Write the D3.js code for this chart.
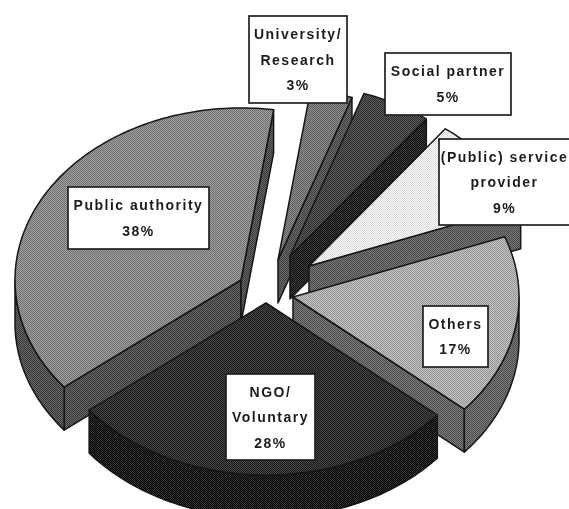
<!DOCTYPE html>
<html><head><meta charset="utf-8">
<script src="https://cdn.jsdelivr.net/npm/d3@7"></script>
<style>html,body{margin:0;padding:0;background:#fff}svg{display:block}</style>
</head><body><div id="c"></div>
<script>
const categories=["Public authority","University/Research","Social partner","(Public) service provider","Others","NGO/Voluntary"];
const values=[38,3,5,9,17,28];
const labelLines=[["Public authority","38%"],["University/","Research","3%"],["Social partner","5%"],["(Public) service","provider","9%"],["Others","17%"],["NGO/","Voluntary","28%"]];
const topGrey=[136,118,68,238,172,50];
const sideGrey=[80,84,34,96,100,26];
const drawOrder=[1,2,3,0,4,5];
const apexX=[241,278,290,309,293,266];
const apexY=[280,260,256,266,297,303];
const boxX0=[68,249,385,439,423,226], boxX1=[209,347,511,570,488,315];
const boxY0=[187,16,53,139,306,374], boxY1=[249,103,115,225,367,460];
const W=569,H=509,depth=43;
const px=d3.scaleLinear().domain([-1,1]).range([-226,226]);
const py=d3.scaleLinear().domain([-1,1]).range([172,-172]);
const svg=d3.select("#c").append("svg").attr("width",W).attr("height",H);
const defs=svg.append("defs");
defs.append("filter").attr("id","soft").append("feGaussianBlur").attr("stdDeviation",0.35);
function pattern(id,g){
  const p=defs.append("pattern").attr("id",id).attr("width",2).attr("height",2).attr("patternUnits","userSpaceOnUse");
  const hi=Math.min(255,g+26),lo=Math.max(0,g-26);
  p.append("rect").attr("width",2).attr("height",2).attr("fill",d3.rgb(hi,hi,hi));
  p.append("rect").attr("width",1).attr("height",1).attr("fill",d3.rgb(lo,lo,lo));
  p.append("rect").attr("x",1).attr("y",1).attr("width",1).attr("height",1).attr("fill",d3.rgb(lo,lo,lo));
}
categories.forEach((c,i)=>{pattern("t"+i,topGrey[i]);pattern("s"+i,sideGrey[i]);});
const pie=d3.pie().sort(null).startAngle(231.5*Math.PI/180).endAngle(591.5*Math.PI/180);
const arcs=pie(values);
const X=(i,a)=>apexX[i]+px(Math.sin(a));
const Y=(i,a)=>apexY[i]+py(Math.cos(a));
function arcPts(i,a0,a1,dy,ctx,move){
  const n=Math.max(2,Math.ceil(Math.abs(a1-a0)/0.02));
  d3.range(n+1).forEach(k=>{
    const a=a0+(a1-a0)*k/n;
    if(k===0&&move)ctx.moveTo(X(i,a),Y(i,a)+dy);else ctx.lineTo(X(i,a),Y(i,a)+dy);
  });
}
const g=svg.append("g").attr("filter","url(#soft)");
const stroke="#161616";
drawOrder.forEach(i=>{
  const a0=arcs[i].startAngle,a1=arcs[i].endAngle;
  const faces=[];
  [[a0,a0-Math.PI/2],[a1,a1+Math.PI/2]].forEach(([a,n])=>{
    if(Math.cos(n)<0){
      const c=d3.path();
      c.moveTo(apexX[i],apexY[i]);c.lineTo(X(i,a),Y(i,a));c.lineTo(X(i,a),Y(i,a)+depth);c.lineTo(apexX[i],apexY[i]+depth);c.closePath();
      faces.push(c.toString());
    }
  });
  const TAU=2*Math.PI;
  [[Math.PI/2,1.5*Math.PI],[Math.PI/2+TAU,1.5*Math.PI+TAU]].forEach(([lo,hi])=>{
    const s=Math.max(a0,lo),e=Math.min(a1,hi);
    if(e>s){
      const c=d3.path();
      arcPts(i,s,e,0,c,true);arcPts(i,e,s,depth,c,false);c.closePath();
      faces.push(c.toString());
    }
  });
  g.selectAll(null).data(faces).enter().append("path").attr("d",d=>d)
    .attr("fill",`url(#s${i})`).attr("stroke",stroke).attr("stroke-width",1.5).attr("stroke-linejoin","round");
  const t=d3.path();
  t.moveTo(apexX[i],apexY[i]);arcPts(i,a0,a1,0,t,false);t.closePath();
  g.append("path").attr("d",t.toString()).attr("fill",`url(#t${i})`).attr("stroke",stroke).attr("stroke-width",1.5).attr("stroke-linejoin","round");
});
const lab=svg.append("g").attr("filter","url(#soft)");
categories.forEach((c,i)=>{
  lab.append("rect").attr("x",boxX0[i]).attr("y",boxY0[i]).attr("width",boxX1[i]-boxX0[i]).attr("height",boxY1[i]-boxY0[i])
    .attr("fill","#fff").attr("stroke","#222").attr("stroke-width",1.7);
  const lines=labelLines[i],n=lines.length,cy=(boxY0[i]+boxY1[i])/2,step=25.5;
  lines.forEach((s,k)=>{
    lab.append("text").attr("x",(boxX0[i]+boxX1[i])/2).attr("y",cy+(k-(n-1)/2)*step+5)
      .attr("text-anchor","middle").attr("font-family","'Liberation Sans',Arial,sans-serif")
      .attr("font-weight","bold").attr("font-size",14).attr("letter-spacing",1.5).attr("fill","#1c1c1c").text(s);
  });
});
</script></body></html>
